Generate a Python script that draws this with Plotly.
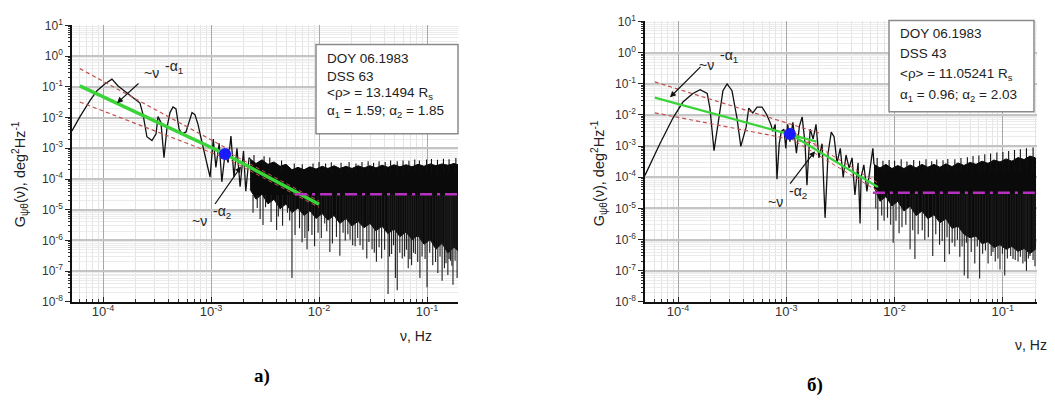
import plotly.graph_objects as go

W, H = 1055, 405

# ---------------- Panel a) data (DSS 63) ----------------
a_curve_f = [5.16e-5, 6.12e-5, 7.6e-5, 8.8e-5, 1.04e-4, 1.21e-4, 1.38e-4, 1.6e-4, 1.86e-4, 2.2e-4,
             2.35e-4, 2.55e-4, 2.84e-4, 3.1e-4, 3.23e-4, 3.44e-4, 3.67e-4, 3.92e-4, 4.17e-4, 4.45e-4,
             4.74e-4, 5.06e-4, 5.4e-4, 5.87e-4, 6.25e-4, 6.67e-4, 7.1e-4, 7.58e-4, 8.07e-4, 8.6e-4,
             9.2e-4, 9.8e-4, 1.05e-3, 1.11e-3, 1.19e-3, 1.26e-3, 1.35e-3, 1.44e-3, 1.53e-3, 1.63e-3,
             1.74e-3, 1.86e-3, 2.0e-3, 2.1e-3, 2.25e-3]
a_curve_g = [3.65e-3, 1.07e-2, 3.6e-2, 7.5e-2, 0.124, 0.178, 0.107, 0.07, 0.046, 0.0295,
             0.0124, 2.37e-3, 1.78e-3, 2.95e-3, 0.0107, 6.98e-3, 4.9e-4, 4.9e-3, 0.0145, 0.022,
             0.019, 4.2e-3, 2.95e-3, 3.4e-3, 6.98e-3, 0.0145, 0.0124, 6e-3, 2.2e-3, 8.1e-4,
             3.4e-4, 1.15e-4, 2.0e-3, 2.4e-4, 1.45e-3, 8.1e-5, 6.9e-4, 3.4e-4, 2.5e-3, 1.15e-4,
             1e-3, 5.6e-5, 8.1e-4, 4e-5, 4.9e-4]

a_band_f = [2.30e-3, 2.61e-3, 2.97e-3, 3.37e-3, 3.83e-3, 4.36e-3, 4.95e-3, 5.62e-3, 6.39e-3, 7.26e-3,
            8.25e-3, 9.38e-3, 1.07e-2, 1.21e-2, 1.38e-2, 1.56e-2, 1.78e-2, 2.02e-2, 2.30e-2, 2.61e-2,
            2.97e-2, 3.37e-2, 3.83e-2, 4.36e-2, 4.95e-2, 5.62e-2, 6.39e-2, 7.26e-2, 8.25e-2, 9.38e-2,
            0.107, 0.121, 0.138, 0.156, 0.178, 0.194]
a_band_hi = [4.5e-4, 3.2e-4, 4.2e-4, 3.0e-4, 3.6e-4, 2.6e-4, 3.0e-4, 2.0e-4, 2.4e-4, 2.0e-4,
             2.5e-4, 2.1e-4, 2.6e-4, 2.2e-4, 2.7e-4, 2.2e-4, 2.6e-4, 2.2e-4, 2.7e-4, 2.3e-4,
             2.7e-4, 2.3e-4, 2.8e-4, 2.4e-4, 2.9e-4, 2.5e-4, 2.9e-4, 2.5e-4, 3.0e-4, 2.6e-4,
             3.1e-4, 2.7e-4, 3.1e-4, 2.8e-4, 3.2e-4, 2.9e-4]
a_band_lo = [4.6e-5, 2.2e-5, 3.2e-5, 1.55e-5, 2.2e-5, 1.07e-5, 1.55e-5, 8.1e-6, 1.15e-5, 6.5e-6,
             9.3e-6, 5.2e-6, 7.5e-6, 4.6e-6, 6.5e-6, 3.6e-6, 5.2e-6, 2.95e-6, 4.2e-6, 2.6e-6,
             3.6e-6, 2.05e-6, 2.95e-6, 1.65e-6, 2.4e-6, 1.33e-6, 1.9e-6, 1.07e-6, 1.44e-6, 7.5e-7,
             1.07e-6, 5.2e-7, 8.1e-7, 3.9e-7, 6e-7, 4.6e-7]

# deep downward spikes
a_spike_f = [2.68e-3, 3.03e-3, 4.05e-3, 5.1e-3, 5.62e-3, 6.97e-3, 7.75e-3, 9.1e-3, 1.13e-2, 1.26e-2,
             1.56e-2, 1.67e-2, 1.94e-2, 2.16e-2, 2.4e-2, 2.77e-2, 3.1e-2, 3.4e-2, 3.8e-2, 4.36e-2,
             4.7e-2, 5.1e-2, 5.3e-2, 5.9e-2, 6.7e-2, 7.2e-2, 7.8e-2, 8.6e-2, 0.1, 0.113,
             0.126, 0.138, 0.145, 0.156, 0.165, 0.174, 0.19]
a_spike_g = [1.15e-5, 3.2e-6, 2.2e-6, 8e-6, 6e-8, 8.7e-7, 5.2e-7, 6.5e-7, 3.6e-6, 4.2e-7,
             3.2e-7, 1.8e-6, 1.07e-6, 6.5e-7, 7e-7, 2.6e-7, 5.2e-7, 2.05e-7, 2.6e-7, 1.8e-8,
             3.6e-7, 6e-8, 2.4e-8, 2.6e-7, 1.26e-7, 1.55e-7, 3.6e-7, 6e-8, 3e-8, 1.55e-7,
             8.7e-8, 4.9e-8, 1.26e-7, 7.5e-8, 2.2e-7, 3.6e-8, 6e-8]
# moderate downward spikes
a_spike2_f = [2.45e-3, 2.85e-3, 3.2e-3, 3.6e-3, 4.2e-3, 4.6e-3, 5.35e-3, 6.0e-3, 6.6e-3, 7.4e-3,
              8.0e-3, 8.6e-3, 9.8e-3, 1.05e-2, 1.18e-2, 1.33e-2, 1.45e-2, 1.75e-2, 1.85e-2, 2.05e-2,
              2.28e-2, 2.55e-2, 2.9e-2, 3.25e-2, 3.6e-2, 4.05e-2, 4.5e-2, 4.9e-2, 5.6e-2, 6.2e-2,
              6.45e-2, 6.95e-2, 7.5e-2, 8.2e-2, 9.0e-2, 9.6e-2, 0.106, 0.12, 0.132, 0.15,
              0.16, 0.17, 0.182]
a_spike2_g = [8e-6, 5e-6, 1.2e-5, 4e-6, 6e-6, 3e-6, 4.5e-6, 1.5e-6, 2.5e-6, 1.2e-6,
              2e-6, 1.5e-6, 1.8e-6, 1.2e-6, 2e-6, 8e-7, 1.3e-6, 1e-6, 1.6e-6, 7e-7,
              1.2e-6, 5e-7, 9e-7, 4e-7, 6e-7, 5e-7, 3e-7, 7e-7, 4e-7, 3e-7,
              5e-7, 2.5e-7, 4e-7, 2e-7, 3e-7, 2.5e-7, 4e-7, 2e-7, 3e-7, 1.8e-7,
              2.5e-7, 1.5e-7, 2.2e-7]
# upward spikes on the top edge
a_up_f = [2.5e-3, 3.1e-3, 3.5e-3, 4.5e-3, 5.9e-3, 7.0e-3, 8.8e-3, 1.0e-2, 1.15e-2, 1.3e-2,
          1.6e-2, 1.9e-2, 2.2e-2, 2.5e-2, 2.85e-2, 3.2e-2, 3.6e-2, 4.1e-2, 4.6e-2, 5.3e-2,
          6.0e-2, 6.8e-2, 7.7e-2, 8.5e-2, 9.9e-2, 0.11, 0.125, 0.142, 0.16, 0.185]
a_up_g = [6e-4, 5.5e-4, 5e-4, 4e-4, 3.2e-4, 3.0e-4, 3.2e-4, 3.6e-4, 3.2e-4, 3.5e-4,
          3.4e-4, 3.6e-4, 3.2e-4, 3.6e-4, 3.8e-4, 3.4e-4, 3.8e-4, 3.6e-4, 4.0e-4, 3.8e-4,
          4.0e-4, 3.9e-4, 4.3e-4, 4.0e-4, 4.3e-4, 4.5e-4, 4.2e-4, 4.6e-4, 4.4e-4, 4.8e-4]

a_fit_f = [6.1e-5, 1.35e-3, 1.0e-2]
a_fit_g = [0.107, 6.5e-4, 1.5e-5]
a_conf_up1_f, a_conf_up1_g = [6.1e-5, 1.5e-3], [0.39, 8.7e-4]
a_conf_lo1_f, a_conf_lo1_g = [6.1e-5, 1.5e-3], [0.032, 4.2e-4]
a_conf_up2_f, a_conf_up2_g = [1.35e-3, 1.0e-2], [8.5e-4, 1.9e-5]
a_conf_lo2_f, a_conf_lo2_g = [1.35e-3, 1.0e-2], [5.0e-4, 1.2e-5]
a_break_f, a_break_g = [1.35e-3], [6.5e-4]
a_noise_f, a_noise_g = [6.0e-3, 0.2], [3.2e-5, 3.2e-5]

# ---------------- Panel b) data (DSS 43) ----------------
b_curve_f = [4.95e-5, 6.8e-5, 9.0e-5, 1.11e-4, 1.37e-4, 1.6e-4, 1.86e-4, 1.97e-4, 2.15e-4, 2.34e-4,
             2.6e-4, 2.84e-4, 3.15e-4, 3.5e-4, 3.8e-4, 4.25e-4, 4.5e-4, 4.9e-4, 5.37e-4, 5.97e-4,
             6.6e-4, 7.2e-4, 7.5e-4, 7.9e-4, 8.2e-4, 8.6e-4, 9.0e-4,
             9.5e-4, 9.9e-4, 1.03e-3, 1.08e-3, 1.15e-3, 1.24e-3, 1.32e-3, 1.40e-3, 1.49e-3, 1.55e-3,
             1.66e-3, 1.77e-3, 1.88e-3, 2.0e-3, 2.14e-3, 2.28e-3, 2.43e-3, 2.6e-3, 2.76e-3, 2.94e-3,
             3.15e-3, 3.35e-3, 3.56e-3, 3.8e-3, 4.05e-3, 4.3e-3, 4.6e-3, 4.8e-3, 4.9e-3, 5.2e-3,
             5.55e-3, 5.93e-3, 6.3e-3]
b_curve_g = [1.15e-4, 1.2e-3, 8.1e-3, 0.026, 0.049, 0.065, 0.049, 0.0166, 7.2e-4, 6.2e-3,
             0.06, 0.099, 0.06, 8.1e-3, 9.8e-4, 4e-3, 0.0166, 0.0117, 0.0178, 0.0178,
             0.0102, 5e-3, 3e-3, 5e-3, 8.7e-5, 1.2e-3, 3e-3,
             3.5e-3, 8.5e-4, 5.0e-3, 1.4e-3, 5.8e-3, 5.9e-4, 4.3e-3, 8.7e-3, 1.2e-3, 5.6e-5,
             3.5e-3, 1.7e-3, 5.0e-3, 4.2e-4, 1.2e-3, 5.0e-6, 5.9e-4, 2.8e-3, 2.0e-3, 2.9e-4,
             8.5e-4, 1.0e-4, 5.2e-4, 2.0e-4, 4.2e-4, 2.7e-5, 2.9e-4, 3.3e-6, 1.0e-4, 2.5e-4,
             3.5e-5, 2.0e-4, 8.5e-4]

b_band_f = [6.45e-3, 7.33e-3, 8.32e-3, 9.45e-3, 1.07e-2, 1.22e-2, 1.39e-2, 1.58e-2, 1.79e-2, 2.03e-2,
            2.31e-2, 2.62e-2, 2.98e-2, 3.39e-2, 3.85e-2, 4.37e-2, 4.97e-2, 5.65e-2, 6.41e-2, 7.28e-2,
            8.28e-2, 9.4e-2, 0.107, 0.121, 0.138, 0.157, 0.178, 0.2]
b_band_hi = [2.6e-4, 2.0e-4, 2.6e-4, 1.9e-4, 2.4e-4, 1.9e-4, 2.5e-4, 2.0e-4, 2.6e-4, 2.1e-4,
             2.6e-4, 2.1e-4, 2.7e-4, 2.2e-4, 2.9e-4, 2.4e-4, 3.0e-4, 2.6e-4, 3.3e-4, 2.8e-4,
             3.6e-4, 3.1e-4, 3.9e-4, 3.3e-4, 4.3e-4, 3.7e-4, 4.8e-4, 4.2e-4]
b_band_lo = [4.9e-5, 1.7e-5, 2.4e-5, 1.2e-5, 1.7e-5, 8.3e-6, 1.2e-5, 5.9e-6, 8.3e-6, 4.7e-6,
             6.3e-6, 3.5e-6, 4.7e-6, 2.3e-6, 2.7e-6, 1.5e-6, 1.15e-6, 1.3e-6, 7.4e-7, 8.6e-7,
             5.6e-7, 6.9e-7, 4.9e-7, 6.0e-7, 4.2e-7, 5.2e-7, 3.6e-7, 4.9e-7]

b_spike_f = [7.0e-3, 8.0e-3, 9.7e-3, 1.1e-2, 1.39e-2, 1.54e-2, 1.9e-2, 2.25e-2, 2.6e-2, 2.9e-2,
             3.2e-2, 3.6e-2, 4.0e-2, 4.4e-2, 4.75e-2, 5.5e-2, 6.1e-2, 7.3e-2, 8.5e-2, 9.4e-2,
             0.104, 0.124, 0.138, 0.153, 0.165, 0.178, 0.198]
b_spike_g = [2.0e-6, 4e-6, 8e-7, 1.6e-6, 4.9e-7, 2.4e-7, 1e-6, 3e-7, 6.9e-7, 1.9e-7,
             3.4e-7, 6e-7, 2.8e-7, 7e-8, 5.7e-8, 1.7e-7, 5.7e-8, 1.7e-7, 2e-7, 1.1e-7,
             7e-8, 2.4e-7, 2e-7, 1.7e-7, 1e-7, 3e-7, 1.4e-7]
b_spike2_f = [6.7e-3, 7.6e-3, 8.6e-3, 9.2e-3, 1.03e-2, 1.17e-2, 1.27e-2, 1.47e-2, 1.65e-2, 1.8e-2,
              2.05e-2, 2.4e-2, 2.75e-2, 3.05e-2, 3.4e-2, 3.8e-2, 4.2e-2, 4.6e-2, 5.1e-2, 5.8e-2,
              6.5e-2, 6.9e-2, 7.8e-2, 8.1e-2, 9.0e-2, 9.9e-2, 0.11, 0.118, 0.13, 0.145,
              0.16, 0.172, 0.19]
b_spike2_g = [1e-5, 6e-6, 5e-6, 3e-6, 4e-6, 2.5e-6, 3e-6, 2e-6, 1.5e-6, 2e-6,
              1.2e-6, 1.5e-6, 9e-7, 1.2e-6, 8e-7, 1e-6, 6e-7, 8e-7, 4e-7, 6e-7,
              3.5e-7, 4.5e-7, 3e-7, 4e-7, 2.5e-7, 3.5e-7, 2.5e-7, 3e-7, 2.2e-7, 2.8e-7,
              2e-7, 2.5e-7, 2.2e-7]
b_up_f = [6.9e-3, 7.8e-3, 8.9e-3, 1.0e-2, 1.15e-2, 1.3e-2, 1.5e-2, 1.7e-2, 1.95e-2, 2.2e-2,
          2.45e-2, 2.8e-2, 3.1e-2, 3.6e-2, 4.1e-2, 4.7e-2, 5.3e-2, 6.0e-2, 6.8e-2, 7.7e-2,
          8.8e-2, 0.1, 0.113, 0.128, 0.145, 0.165, 0.19]
b_up_g = [4.2e-4, 3.4e-4, 3.6e-4, 3.4e-4, 3.8e-4, 3.2e-4, 3.6e-4, 3.4e-4, 3.8e-4, 3.3e-4,
          3.7e-4, 3.5e-4, 3.9e-4, 3.8e-4, 4.2e-4, 4.4e-4, 4.8e-4, 5.0e-4, 5.5e-4, 5.8e-4,
          6.2e-4, 6.5e-4, 7.0e-4, 7.5e-4, 8.0e-4, 8.5e-4, 9.0e-4]

b_fit1_f, b_fit1_g = [6.1e-5, 1.9e-3], [0.036, 1.4e-3]
b_fit2_f, b_fit2_g = [1.08e-3, 7.0e-3], [2.45e-3, 4.9e-5]
b_conf_up1_f, b_conf_up1_g = [6.1e-5, 2.04e-3], [0.115, 2.6e-3]
b_conf_lo1_f, b_conf_lo1_g = [6.1e-5, 2.04e-3], [0.0117, 1.1e-3]
b_conf_up2_f, b_conf_up2_g = [1.08e-3, 7.0e-3], [3.3e-3, 6.6e-5]
b_conf_lo2_f, b_conf_lo2_g = [1.08e-3, 7.0e-3], [1.8e-3, 3.6e-5]
b_break_f, b_break_g = [1.08e-3], [2.45e-3]
b_noise_f, b_noise_g = [6.3e-3, 0.2], [3.2e-5, 3.2e-5]

# ---------------- tick labels & texts ----------------
x_tick_vals = [1e-4, 1e-3, 1e-2, 1e-1]
x_tick_text = ["10<sup>-4</sup>", "10<sup>-3</sup>", "10<sup>-2</sup>", "10<sup>-1</sup>"]
y_tick_vals = [1e1, 1e0, 1e-1, 1e-2, 1e-3, 1e-4, 1e-5, 1e-6, 1e-7, 1e-8]
y_tick_text = ["10<sup>1</sup>", "10<sup>0</sup>", "10<sup>-1</sup>", "10<sup>-2</sup>", "10<sup>-3</sup>",
               "10<sup>-4</sup>", "10<sup>-5</sup>", "10<sup>-6</sup>", "10<sup>-7</sup>", "10<sup>-8</sup>"]
a_box_lines = ["DOY 06.1983", "DSS 63", "&lt;ρ&gt; = 13.1494 R<sub>s</sub>",
               "α<sub>1</sub> = 1.59; α<sub>2</sub> = 1.85"]
b_box_lines = ["DOY 06.1983", "DSS 43", "&lt;ρ&gt; = 11.05241 R<sub>s</sub>",
               "α<sub>1</sub> = 0.96; α<sub>2</sub> = 2.03"]
y_title = "G<sub>ψθ</sub>(ν), deg<sup>2</sup>Hz<sup>-1</sup>"
x_title = "ν, Hz"
law_base = "~ν"
law_exp1 = "-α<sub>1</sub>"
law_exp2 = "-α<sub>2</sub>"

SANS = "Liberation Sans, Arial, sans-serif"


def PX(x):
    return x / W


def PY(y):
    return 1 - y / H


minor_vals = [k * 10.0 ** e for e in range(-9, 2) for k in range(2, 10)]

fig = go.Figure()


def spikes(fs, gs, base):
    sx, sy = [], []
    for f, g in zip(fs, gs):
        sx += [f, f, None]
        sy += [base, g, None]
    return sx, sy


def add_panel(n, curve_f, curve_g, band_f, band_hi, band_lo, spike_sets, up_f, up_g,
              fits, confs, brk, noise, fit_w):
    xa, ya = ("x", "y") if n == 1 else ("x2", "y2")
    fig.add_trace(go.Scatter(x=band_f + band_f[::-1], y=band_hi + band_lo[::-1], fill="toself",
                             fillcolor="#0a0a0a", mode="lines", line=dict(color="#0a0a0a", width=1),
                             xaxis=xa, yaxis=ya, hoverinfo="skip", showlegend=False))
    for fs, gs in spike_sets:
        sx, sy = spikes(fs, gs, 3e-5)
        fig.add_trace(go.Scatter(x=sx, y=sy, mode="lines", line=dict(color="#1e1e1e", width=1.1),
                                 xaxis=xa, yaxis=ya, hoverinfo="skip", showlegend=False))
    sx, sy = spikes(up_f, up_g, 1.5e-4)
    fig.add_trace(go.Scatter(x=sx, y=sy, mode="lines", line=dict(color="#111", width=1.1),
                             xaxis=xa, yaxis=ya, hoverinfo="skip", showlegend=False))
    fig.add_trace(go.Scatter(x=curve_f + [band_f[0]], y=curve_g + [band_hi[0]], mode="lines",
                             line=dict(color="#111", width=1.3), xaxis=xa, yaxis=ya,
                             showlegend=False))
    for cf, cg, w in confs:
        fig.add_trace(go.Scatter(x=cf, y=cg, mode="lines",
                                 line=dict(color="#c0504d", width=w, dash="4px,3px"),
                                 xaxis=xa, yaxis=ya, showlegend=False))
    for ff, fg in fits:
        fig.add_trace(go.Scatter(x=ff, y=fg, mode="lines", line=dict(color="#3ad43a", width=fit_w),
                                 xaxis=xa, yaxis=ya, showlegend=False))
    fig.add_trace(go.Scatter(x=noise[0], y=noise[1], mode="lines",
                             line=dict(color="#b830c0", width=2.5, dash="12px,5px,3px,5px"),
                             xaxis=xa, yaxis=ya, showlegend=False))
    fig.add_trace(go.Scatter(x=brk[0], y=brk[1], mode="markers",
                             marker=dict(color="#1a1aff", size=12), xaxis=xa, yaxis=ya,
                             showlegend=False))


add_panel(1, a_curve_f, a_curve_g, a_band_f, a_band_hi, a_band_lo,
          [(a_spike_f, a_spike_g), (a_spike2_f, a_spike2_g)], a_up_f, a_up_g,
          [(a_fit_f, a_fit_g)],
          [(a_conf_up1_f, a_conf_up1_g, 1.2), (a_conf_lo1_f, a_conf_lo1_g, 1.2),
           (a_conf_up2_f, a_conf_up2_g, 1.0), (a_conf_lo2_f, a_conf_lo2_g, 1.0)],
          (a_break_f, a_break_g), (a_noise_f, a_noise_g), 3.5)
add_panel(2, b_curve_f, b_curve_g, b_band_f, b_band_hi, b_band_lo,
          [(b_spike_f, b_spike_g), (b_spike2_f, b_spike2_g)], b_up_f, b_up_g,
          [(b_fit1_f, b_fit1_g), (b_fit2_f, b_fit2_g)],
          [(b_conf_up1_f, b_conf_up1_g, 1.2), (b_conf_lo1_f, b_conf_lo1_g, 1.2),
           (b_conf_up2_f, b_conf_up2_g, 1.0), (b_conf_lo2_f, b_conf_lo2_g, 1.0)],
          (b_break_f, b_break_g), (b_noise_f, b_noise_g), 2.2)


def xaxis_style(dom, rng, anchor):
    return dict(domain=dom, type="log", range=rng, anchor=anchor,
                tickmode="array", tickvals=x_tick_vals, ticktext=x_tick_text,
                ticks="inside", ticklen=5, tickcolor="#222", ticklabelstandoff=-3,
                tickfont=dict(family=SANS, size=13, color="#333"),
                showline=True, linecolor="#111", linewidth=1.5,
                showgrid=True, gridcolor="#a8a8a8", gridwidth=1,
                minor=dict(tickmode="array", tickvals=minor_vals, ticks="inside", ticklen=3,
                           tickcolor="#333", showgrid=True, gridcolor="#e4e4e4", gridwidth=1),
                zeroline=False)


def yaxis_style(dom, anchor):
    return dict(domain=dom, type="log", range=[-8, 1], anchor=anchor,
                tickmode="array", tickvals=y_tick_vals, ticktext=y_tick_text,
                ticks="outside", ticklen=5, tickcolor="#222",
                tickfont=dict(family=SANS, size=12, color="#333"),
                showline=True, linecolor="#111", linewidth=1.5,
                showgrid=True, gridcolor="#c4c4c4", gridwidth=1.5,
                minor=dict(tickmode="array", tickvals=minor_vals, ticks="outside", ticklen=2,
                           tickcolor="#333", showgrid=True, gridcolor="#ebebeb", gridwidth=1),
                zeroline=False)


fig.update_layout(
    width=W, height=H, margin=dict(l=0, r=0, t=0, b=0),
    paper_bgcolor="white", plot_bgcolor="white", showlegend=False,
    xaxis=xaxis_style([PX(72), PX(458)], [-4.287, -0.713], "y"),
    yaxis=yaxis_style([PY(305), PY(17)], "x"),
    xaxis2=xaxis_style([PX(645), PX(1037)], [-4.305, -0.685], "y2"),
    yaxis2=yaxis_style([PY(305), PY(13)], "x2"),
)

shapes = [
    dict(type="rect", xref="paper", yref="paper", x0=PX(316), x1=PX(458), y0=PY(130), y1=PY(37),
         fillcolor="white", line=dict(color="#8a8a8a", width=1.5), layer="above"),
    dict(type="rect", xref="paper", yref="paper", x0=PX(889), x1=PX(1034), y0=PY(107), y1=PY(12),
         fillcolor="white", line=dict(color="#8a8a8a", width=1.5), layer="above"),
]
fig.update_layout(shapes=shapes)

ann = []


def text(x, y, s, size=14, xanchor="center", yanchor="middle", angle=0, family=SANS, color="#222"):
    ann.append(dict(x=PX(x), y=PY(y), xref="paper", yref="paper", text=s, showarrow=False,
                    xanchor=xanchor, yanchor=yanchor, textangle=angle,
                    font=dict(family=family, size=size, color=color)))


def arrow(hx, hy, tx, ty):
    ann.append(dict(x=PX(hx), y=PY(hy), xref="paper", yref="paper", text="", showarrow=True,
                    ax=tx - hx, ay=ty - hy, axref="pixel", ayref="pixel",
                    arrowhead=2, arrowsize=1, arrowwidth=1.2, arrowcolor="#111"))


for line, yy in zip(a_box_lines, [52, 70, 88, 107]):
    text(325, yy, line, size=13.5, xanchor="left")
for line, yy in zip(b_box_lines, [26, 46, 68, 90]):
    text(898, yy, line, size=13.5, xanchor="left")

text(20, 172, y_title, size=14.5, angle=-90)
text(599, 171, y_title, size=14.5, angle=-90)
text(416, 340, x_title, size=14, xanchor="center")
text(1031, 350, x_title, size=14, xanchor="center")

# power-law labels: base "~ν" + raised exponent
for bx, by, ex, ey, e in [(151, 67, 174, 60, law_exp1), (199, 221, 222, 211, law_exp2),
                          (706, 58, 729, 49, law_exp1), (775, 201, 798, 191, law_exp2)]:
    text(bx, by, law_base, size=14)
    text(ex, ey, e, size=14)
arrow(117, 98, 140, 77)
arrow(241, 164, 214, 203)
arrow(670, 92, 702, 60)
arrow(815, 148, 789, 182)

text(262, 382, "<b>а)</b>", size=19, family="Liberation Serif, Times New Roman, serif", color="#000")
text(815, 391, "<b>б)</b>", size=19, family="Liberation Serif, Times New Roman, serif", color="#000")

fig.update_layout(annotations=ann)
fig.write_html("out.html", config={"responsive": False, "displayModeBar": False},
               post_script="document.body.style.margin='0';")
